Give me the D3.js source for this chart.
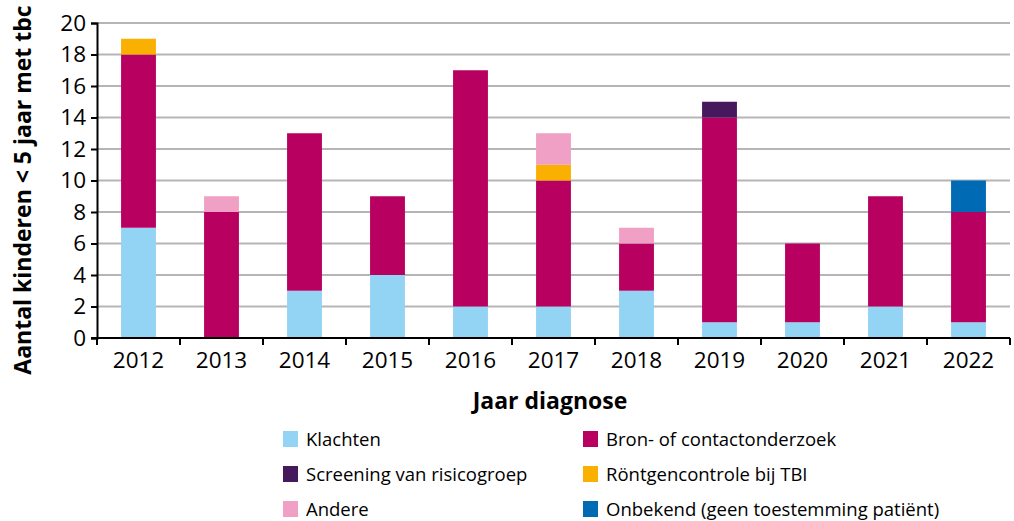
<!DOCTYPE html>
<html>
<head>
<meta charset="utf-8">
<script src="https://cdn.jsdelivr.net/npm/d3@7"></script>
<style>
  body { margin: 0; background: #fff; }
  text { font-family: "Open Sans", "Noto Sans", sans-serif; fill: #000; }
</style>
</head>
<body>
<div class="chart"></div>
<script>
// data
var years = ["2012", "2013", "2014", "2015", "2016", "2017", "2018", "2019", "2020", "2021", "2022"];
var klachten  = [7, 0, 3, 4, 2, 2, 3, 1, 1, 2, 1];
var bron      = [11, 8, 10, 5, 15, 8, 3, 13, 5, 7, 7];
var screening = [0, 0, 0, 0, 0, 0, 0, 1, 0, 0, 0];
var rontgen   = [1, 0, 0, 0, 0, 1, 0, 0, 0, 0, 0];
var andere    = [0, 1, 0, 0, 0, 2, 1, 0, 0, 0, 0];
var onbekend  = [0, 0, 0, 0, 0, 0, 0, 0, 0, 0, 2];
var yTicks = [0, 2, 4, 6, 8, 10, 12, 14, 16, 18, 20];

var series = [
    { key: "klachten", label: "Klachten", color: "#93d3f3", values: klachten },
    { key: "bron", label: "Bron- of contactonderzoek", color: "#b80061", values: bron },
    { key: "screening", label: "Screening van risicogroep", color: "#45195c", values: screening },
    { key: "rontgen", label: "Röntgencontrole bij TBI", color: "#f9b000", values: rontgen },
    { key: "andere", label: "Andere", color: "#f0a0c4", values: andere },
    { key: "onbekend", label: "Onbekend (geen toestemming patiënt)", color: "#006bb4", values: onbekend }
];

// one row per year for d3.stack
var table = years.map(function (y, i) {
    var row = { year: y };
    series.forEach(function (s) { row[s.key] = s.values[i]; });
    return row;
});

var svgWidth = 1014;
var svgHeight = 521;
var margin = { top: 23, right: 4, bottom: 183, left: 97 };
var width = svgWidth - margin.left - margin.right;
var height = svgHeight - margin.top - margin.bottom;

var svg = d3.select(".chart").append("svg")
    .attr("width", svgWidth)
    .attr("height", svgHeight);

var chartGroup = svg.append("g")
    .attr("transform", `translate(${margin.left}, ${margin.top})`);

var xScale = d3.scaleBand()
    .domain(years)
    .range([0, width])
    .paddingInner(0.58)
    .paddingOuter(0.29);

var yScale = d3.scaleLinear()
    .domain([0, 20])
    .range([height, 0]);

// gridlines
chartGroup.append("g")
    .selectAll("line")
    .data(yTicks.filter(d => d > 0))
    .enter()
    .append("line")
    .attr("x1", 0)
    .attr("x2", width)
    .attr("y1", d => yScale(d))
    .attr("y2", d => yScale(d))
    .attr("stroke", "#b5b5b5")
    .attr("stroke-width", 2);

// stacked bars
var stack = d3.stack().keys(series.map(s => s.key));
var stacked = stack(table);

chartGroup.append("g")
    .selectAll("g")
    .data(stacked)
    .enter()
    .append("g")
    .attr("fill", (d, i) => series[i].color)
    .selectAll("rect")
    .data(d => d)
    .enter()
    .append("rect")
    .attr("x", d => xScale(d.data.year))
    .attr("y", d => yScale(d[1]))
    .attr("width", xScale.bandwidth())
    .attr("height", d => yScale(d[0]) - yScale(d[1]));

// y axis
var leftAxis = d3.axisLeft(yScale).tickValues(yTicks).tickSize(6).tickPadding(5);
var yAxis = chartGroup.append("g").call(leftAxis);
yAxis.select(".domain").attr("stroke", "#000").attr("stroke-width", 2);
yAxis.selectAll(".tick line").attr("stroke", "#000").attr("stroke-width", 2);
yAxis.selectAll(".tick text").attr("font-size", 22.5).attr("font-family", "Open Sans");

// x axis, ticks sit on the band edges
var xAxis = chartGroup.append("g").attr("transform", `translate(0, ${height})`);
xAxis.append("line")
    .attr("x1", -6).attr("x2", width)
    .attr("stroke", "#000").attr("stroke-width", 2);
xAxis.selectAll(".edge")
    .data(years.concat(["end"]))
    .enter()
    .append("line")
    .attr("class", "edge")
    .attr("x1", (d, i) => i * xScale.step())
    .attr("x2", (d, i) => i * xScale.step())
    .attr("y1", 0).attr("y2", 7)
    .attr("stroke", "#000").attr("stroke-width", 2);
xAxis.selectAll(".lbl")
    .data(years)
    .enter()
    .append("text")
    .attr("class", "lbl")
    .attr("x", d => xScale(d) + xScale.bandwidth() / 2)
    .attr("y", 30)
    .attr("text-anchor", "middle")
    .attr("font-size", 22.5)
    .text(d => d);

// axis titles
svg.append("text")
    .attr("transform", "rotate(-90)")
    .attr("x", -190)
    .attr("y", 31)
    .attr("text-anchor", "middle")
    .attr("font-size", 23)
    .attr("font-weight", "bold")
    .text("Aantal kinderen < 5 jaar met tbc");

svg.append("text")
    .attr("x", 550)
    .attr("y", 409)
    .attr("text-anchor", "middle")
    .attr("font-size", 23)
    .attr("font-weight", "bold")
    .text("Jaar diagnose");

// legend, two columns
var legend = svg.append("g");
var items = legend.selectAll("g")
    .data(series)
    .enter()
    .append("g")
    .attr("transform", (d, i) => `translate(${i % 2 === 0 ? 283 : 583}, ${439 + Math.floor(i / 2) * 35})`);
items.append("rect")
    .attr("x", 0).attr("y", -8)
    .attr("width", 15).attr("height", 16)
    .attr("fill", d => d.color);
items.append("text")
    .attr("x", 23)
    .attr("y", 6.5)
    .attr("font-size", 18.5)
    .text(d => d.label);
</script>
</body>
</html>
